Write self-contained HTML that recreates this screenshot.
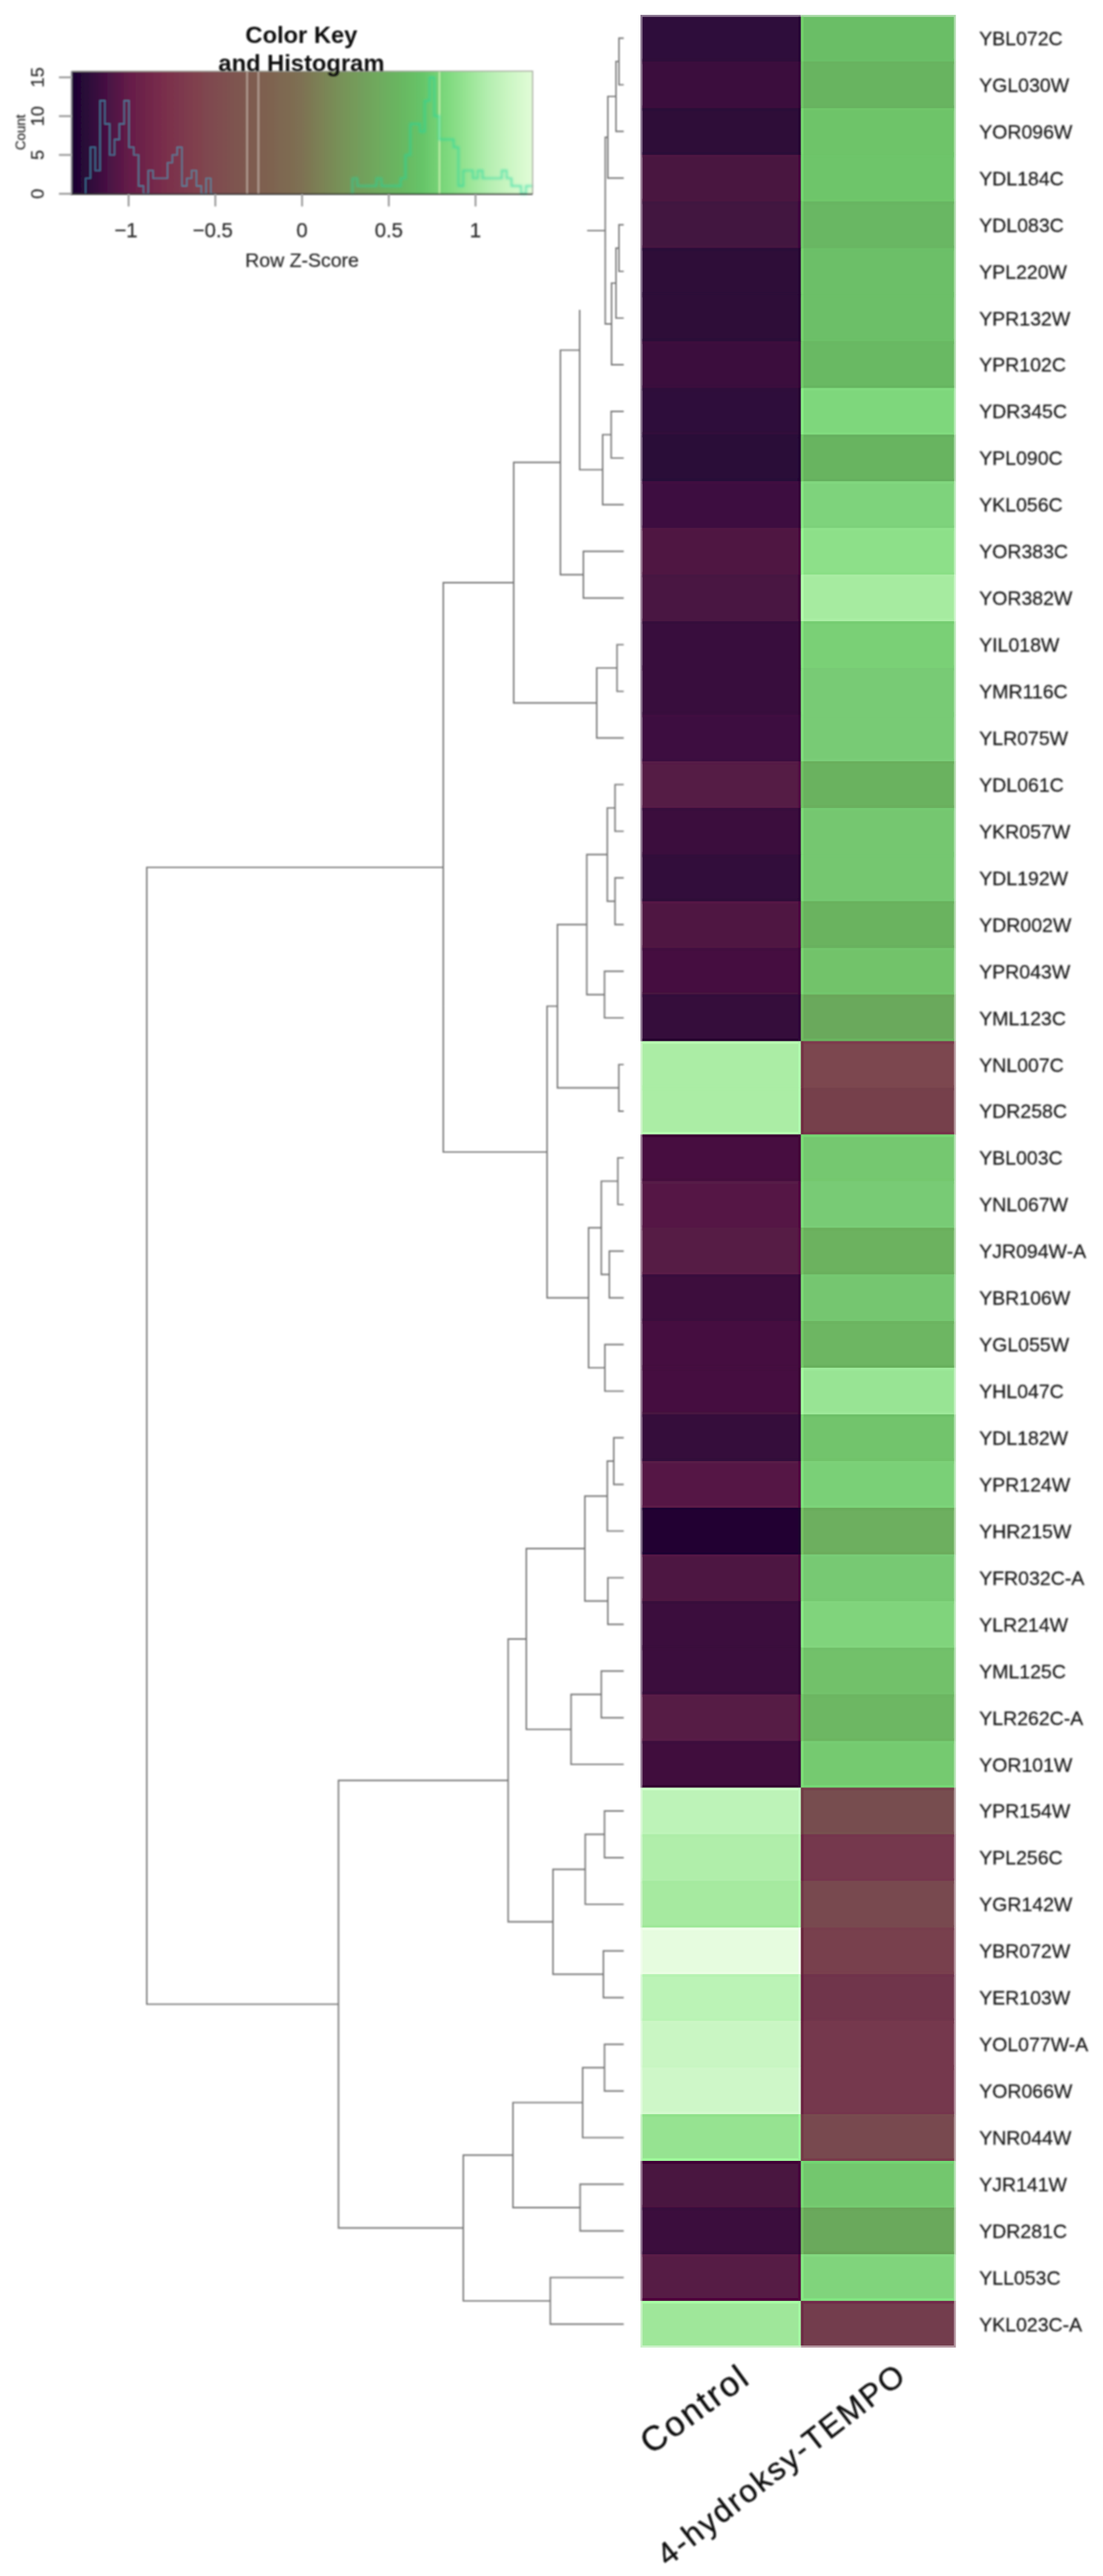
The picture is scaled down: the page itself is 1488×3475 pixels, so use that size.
<!DOCTYPE html>
<html><head><meta charset="utf-8"><title>Heatmap</title>
<style>html,body{margin:0;padding:0;background:#fff;}svg{display:block;font-family:"Liberation Sans",sans-serif;}</style></head><body>
<svg width="1488" height="3475" viewBox="0 0 1488 3475">
<defs>
<filter id="b0" x="-5%" y="-5%" width="110%" height="110%"><feGaussianBlur stdDeviation="0.6"/></filter>
<filter id="b1" x="-5%" y="-5%" width="110%" height="110%"><feGaussianBlur stdDeviation="0.9"/></filter>
<filter id="b2" x="-5%" y="-5%" width="110%" height="110%"><feGaussianBlur stdDeviation="1.6"/></filter>
<linearGradient id="kg" x1="0" x2="1" y1="0" y2="0">
<stop offset="0.0000" stop-color="#1A0530"/>
<stop offset="0.0394" stop-color="#2E083A"/>
<stop offset="0.0807" stop-color="#4A1244"/>
<stop offset="0.1277" stop-color="#661D48"/>
<stop offset="0.1971" stop-color="#792D4C"/>
<stop offset="0.2685" stop-color="#80404E"/>
<stop offset="0.3136" stop-color="#7F4C50"/>
<stop offset="0.4074" stop-color="#7E5E50"/>
<stop offset="0.4976" stop-color="#7E7052"/>
<stop offset="0.5314" stop-color="#7C7E54"/>
<stop offset="0.5787" stop-color="#789058"/>
<stop offset="0.6252" stop-color="#739E5B"/>
<stop offset="0.6718" stop-color="#6EAC5E"/>
<stop offset="0.7184" stop-color="#68B862"/>
<stop offset="0.7604" stop-color="#66C468"/>
<stop offset="0.8115" stop-color="#7CD87C"/>
<stop offset="0.8581" stop-color="#98E494"/>
<stop offset="0.9042" stop-color="#B4EEB0"/>
<stop offset="0.9508" stop-color="#CCF6C4"/>
<stop offset="1.0000" stop-color="#E2FCD8"/>
</linearGradient>
</defs>
<rect width="1488" height="3475" fill="#fff"/>
<g stroke="#727272" stroke-width="1.9" fill="none" stroke-linecap="square" filter="url(#b1)">
<path d="M835.0 51.5L840.5 51.5M835.0 51.5L835.0 114.4M835.0 114.4L840.5 114.4M831.0 82.9L835.0 82.9M831.0 82.9L831.0 177.3M831.0 177.3L840.5 177.3M820.0 130.1L831.0 130.1M820.0 130.1L820.0 240.3M820.0 240.3L840.5 240.3M835.0 303.2L840.5 303.2M835.0 303.2L835.0 366.1M835.0 366.1L840.5 366.1M831.0 334.7L835.0 334.7M831.0 334.7L831.0 429.1M831.0 429.1L840.5 429.1M825.0 381.9L831.0 381.9M825.0 381.9L825.0 492.0M825.0 492.0L840.5 492.0M816.5 185.2L820.0 185.2M816.5 185.2L816.5 437.0M816.5 437.0L825.0 437.0M824.5 555.0L840.5 555.0M824.5 555.0L824.5 617.9M824.5 617.9L840.5 617.9M813.0 586.4L824.5 586.4M813.0 586.4L813.0 680.8M813.0 680.8L840.5 680.8M793.0 311.1L816.5 311.1M782.0 419.0L782.0 633.6M782.0 633.6L813.0 633.6M787.0 743.8L840.5 743.8M787.0 743.8L787.0 806.7M787.0 806.7L840.5 806.7M756.0 472.4L782.0 472.4M756.0 472.4L756.0 775.2M756.0 775.2L787.0 775.2M832.4 869.6L840.5 869.6M832.4 869.6L832.4 932.6M832.4 932.6L840.5 932.6M805.0 901.1L832.4 901.1M805.0 901.1L805.0 995.5M805.0 995.5L840.5 995.5M693.0 623.8L756.0 623.8M693.0 623.8L693.0 948.3M693.0 948.3L805.0 948.3M829.7 1058.4L840.5 1058.4M829.7 1058.4L829.7 1121.4M829.7 1121.4L840.5 1121.4M829.7 1184.3L840.5 1184.3M829.7 1184.3L829.7 1247.3M829.7 1247.3L840.5 1247.3M819.3 1089.9L829.7 1089.9M819.3 1089.9L819.3 1215.8M819.3 1215.8L829.7 1215.8M815.5 1310.2L840.5 1310.2M815.5 1310.2L815.5 1373.1M815.5 1373.1L840.5 1373.1M791.6 1152.8L819.3 1152.8M791.6 1152.8L791.6 1341.7M791.6 1341.7L815.5 1341.7M834.8 1436.1L840.5 1436.1M834.8 1436.1L834.8 1499.0M834.8 1499.0L840.5 1499.0M752.0 1247.3L791.6 1247.3M752.0 1247.3L752.0 1467.5M752.0 1467.5L834.8 1467.5M833.5 1561.9L840.5 1561.9M833.5 1561.9L833.5 1624.9M833.5 1624.9L840.5 1624.9M822.0 1687.8L840.5 1687.8M822.0 1687.8L822.0 1750.7M822.0 1750.7L840.5 1750.7M811.2 1593.4L833.5 1593.4M811.2 1593.4L811.2 1719.3M811.2 1719.3L822.0 1719.3M816.0 1813.7L840.5 1813.7M816.0 1813.7L816.0 1876.6M816.0 1876.6L840.5 1876.6M794.0 1656.3L811.2 1656.3M794.0 1656.3L794.0 1845.1M794.0 1845.1L816.0 1845.1M738.0 1357.4L752.0 1357.4M738.0 1357.4L738.0 1750.7M738.0 1750.7L794.0 1750.7M598.0 786.0L693.0 786.0M598.0 786.0L598.0 1554.1M598.0 1554.1L738.0 1554.1M828.0 1939.5L840.5 1939.5M828.0 1939.5L828.0 2002.5M828.0 2002.5L840.5 2002.5M819.3 1971.0L828.0 1971.0M819.3 1971.0L819.3 2065.4M819.3 2065.4L840.5 2065.4M820.0 2128.4L840.5 2128.4M820.0 2128.4L820.0 2191.3M820.0 2191.3L840.5 2191.3M789.0 2018.2L819.3 2018.2M789.0 2018.2L789.0 2159.8M789.0 2159.8L820.0 2159.8M811.2 2254.2L840.5 2254.2M811.2 2254.2L811.2 2317.2M811.2 2317.2L840.5 2317.2M770.4 2285.7L811.2 2285.7M770.4 2285.7L770.4 2380.1M770.4 2380.1L840.5 2380.1M710.0 2089.0L789.0 2089.0M710.0 2089.0L710.0 2332.9M710.0 2332.9L770.4 2332.9M815.5 2443.0L840.5 2443.0M815.5 2443.0L815.5 2506.0M815.5 2506.0L840.5 2506.0M789.5 2474.5L815.5 2474.5M789.5 2474.5L789.5 2568.9M789.5 2568.9L840.5 2568.9M814.0 2631.8L840.5 2631.8M814.0 2631.8L814.0 2694.8M814.0 2694.8L840.5 2694.8M746.0 2521.7L789.5 2521.7M746.0 2521.7L746.0 2663.3M746.0 2663.3L814.0 2663.3M685.5 2211.0L710.0 2211.0M685.5 2211.0L685.5 2592.5M685.5 2592.5L746.0 2592.5M815.5 2757.7L840.5 2757.7M815.5 2757.7L815.5 2820.7M815.5 2820.7L840.5 2820.7M786.0 2789.2L815.5 2789.2M786.0 2789.2L786.0 2883.6M786.0 2883.6L840.5 2883.6M782.6 2946.5L840.5 2946.5M782.6 2946.5L782.6 3009.5M782.6 3009.5L840.5 3009.5M692.0 2836.4L786.0 2836.4M692.0 2836.4L692.0 2978.0M692.0 2978.0L782.6 2978.0M742.4 3072.4L840.5 3072.4M742.4 3072.4L742.4 3135.3M742.4 3135.3L840.5 3135.3M625.0 2907.2L692.0 2907.2M625.0 2907.2L625.0 3103.9M625.0 3103.9L742.4 3103.9M456.6 2401.7L685.5 2401.7M456.6 2401.7L456.6 3005.5M456.6 3005.5L625.0 3005.5M198.0 1170.1L598.0 1170.1M198.0 1170.1L198.0 2703.6M198.0 2703.6L456.6 2703.6"/>
</g>
<clipPath id="hmin"><rect x="866.7" y="22.7" width="420.1" height="3141.4"/></clipPath>
<g filter="url(#b0)">
<g>
<rect x="864.0" y="20.00" width="216.5" height="63.34" fill="#2F0B3A"/>
<rect x="1080.5" y="20.00" width="209.0" height="63.34" fill="#6BBE66"/>
<rect x="864.0" y="82.94" width="216.5" height="63.34" fill="#3A0F3D"/>
<rect x="1080.5" y="82.94" width="209.0" height="63.34" fill="#68B461"/>
<rect x="864.0" y="145.87" width="216.5" height="63.34" fill="#2D0A39"/>
<rect x="1080.5" y="145.87" width="209.0" height="63.34" fill="#6EC469"/>
<rect x="864.0" y="208.81" width="216.5" height="63.34" fill="#4A1541"/>
<rect x="1080.5" y="208.81" width="209.0" height="63.34" fill="#6EC56A"/>
<rect x="864.0" y="271.74" width="216.5" height="63.34" fill="#421340"/>
<rect x="1080.5" y="271.74" width="209.0" height="63.34" fill="#69B763"/>
<rect x="864.0" y="334.68" width="216.5" height="63.34" fill="#2D0A39"/>
<rect x="1080.5" y="334.68" width="209.0" height="63.34" fill="#6CBF67"/>
<rect x="864.0" y="397.62" width="216.5" height="63.34" fill="#2D0A39"/>
<rect x="1080.5" y="397.62" width="209.0" height="63.34" fill="#6CBF67"/>
<rect x="864.0" y="460.55" width="216.5" height="63.34" fill="#3A0F3D"/>
<rect x="1080.5" y="460.55" width="209.0" height="63.34" fill="#69B963"/>
<rect x="864.0" y="523.49" width="216.5" height="63.34" fill="#2F0B3A"/>
<rect x="1080.5" y="523.49" width="209.0" height="63.34" fill="#7ED77C"/>
<rect x="864.0" y="586.42" width="216.5" height="63.34" fill="#2A0838"/>
<rect x="1080.5" y="586.42" width="209.0" height="63.34" fill="#68B461"/>
<rect x="864.0" y="649.36" width="216.5" height="63.34" fill="#3E1040"/>
<rect x="1080.5" y="649.36" width="209.0" height="63.34" fill="#7ED37C"/>
<rect x="864.0" y="712.30" width="216.5" height="63.34" fill="#4F1743"/>
<rect x="1080.5" y="712.30" width="209.0" height="63.34" fill="#8DE089"/>
<rect x="864.0" y="775.23" width="216.5" height="63.34" fill="#481442"/>
<rect x="1080.5" y="775.23" width="209.0" height="63.34" fill="#A6EBA0"/>
<rect x="864.0" y="838.17" width="216.5" height="63.34" fill="#380D3C"/>
<rect x="1080.5" y="838.17" width="209.0" height="63.34" fill="#7AD076"/>
<rect x="864.0" y="901.10" width="216.5" height="63.34" fill="#380D3C"/>
<rect x="1080.5" y="901.10" width="209.0" height="63.34" fill="#78CB75"/>
<rect x="864.0" y="964.04" width="216.5" height="63.34" fill="#3E1040"/>
<rect x="1080.5" y="964.04" width="209.0" height="63.34" fill="#78CB75"/>
<rect x="864.0" y="1026.98" width="216.5" height="63.34" fill="#541A45"/>
<rect x="1080.5" y="1026.98" width="209.0" height="63.34" fill="#6BB25F"/>
<rect x="864.0" y="1089.91" width="216.5" height="63.34" fill="#3A0E3D"/>
<rect x="1080.5" y="1089.91" width="209.0" height="63.34" fill="#74C770"/>
<rect x="864.0" y="1152.85" width="216.5" height="63.34" fill="#320A3A"/>
<rect x="1080.5" y="1152.85" width="209.0" height="63.34" fill="#74C770"/>
<rect x="864.0" y="1215.78" width="216.5" height="63.34" fill="#501743"/>
<rect x="1080.5" y="1215.78" width="209.0" height="63.34" fill="#6AB35F"/>
<rect x="864.0" y="1278.72" width="216.5" height="63.34" fill="#44113F"/>
<rect x="1080.5" y="1278.72" width="209.0" height="63.34" fill="#72C36B"/>
<rect x="864.0" y="1341.66" width="216.5" height="63.34" fill="#350B3B"/>
<rect x="1080.5" y="1341.66" width="209.0" height="63.34" fill="#6BA95C"/>
<rect x="864.0" y="1404.59" width="216.5" height="63.34" fill="#ABEDA5"/>
<rect x="1080.5" y="1404.59" width="209.0" height="63.34" fill="#7B464F"/>
<rect x="864.0" y="1467.53" width="216.5" height="63.34" fill="#ABEDA5"/>
<rect x="1080.5" y="1467.53" width="209.0" height="63.34" fill="#76414C"/>
<rect x="864.0" y="1530.46" width="216.5" height="63.34" fill="#47113F"/>
<rect x="1080.5" y="1530.46" width="209.0" height="63.34" fill="#74C86F"/>
<rect x="864.0" y="1593.40" width="216.5" height="63.34" fill="#551945"/>
<rect x="1080.5" y="1593.40" width="209.0" height="63.34" fill="#78CB74"/>
<rect x="864.0" y="1656.34" width="216.5" height="63.34" fill="#571B45"/>
<rect x="1080.5" y="1656.34" width="209.0" height="63.34" fill="#6CB25F"/>
<rect x="864.0" y="1719.27" width="216.5" height="63.34" fill="#3C0E3D"/>
<rect x="1080.5" y="1719.27" width="209.0" height="63.34" fill="#74C66F"/>
<rect x="864.0" y="1782.21" width="216.5" height="63.34" fill="#44113F"/>
<rect x="1080.5" y="1782.21" width="209.0" height="63.34" fill="#6DB662"/>
<rect x="864.0" y="1845.14" width="216.5" height="63.34" fill="#44113F"/>
<rect x="1080.5" y="1845.14" width="209.0" height="63.34" fill="#98E494"/>
<rect x="864.0" y="1908.08" width="216.5" height="63.34" fill="#360B3B"/>
<rect x="1080.5" y="1908.08" width="209.0" height="63.34" fill="#72C46C"/>
<rect x="864.0" y="1971.02" width="216.5" height="63.34" fill="#551945"/>
<rect x="1080.5" y="1971.02" width="209.0" height="63.34" fill="#7AD077"/>
<rect x="864.0" y="2033.95" width="216.5" height="63.34" fill="#240533"/>
<rect x="1080.5" y="2033.95" width="209.0" height="63.34" fill="#6DAF5E"/>
<rect x="864.0" y="2096.89" width="216.5" height="63.34" fill="#4E1642"/>
<rect x="1080.5" y="2096.89" width="209.0" height="63.34" fill="#77C973"/>
<rect x="864.0" y="2159.82" width="216.5" height="63.34" fill="#3A0D3C"/>
<rect x="1080.5" y="2159.82" width="209.0" height="63.34" fill="#80D47C"/>
<rect x="864.0" y="2222.76" width="216.5" height="63.34" fill="#3A0D3C"/>
<rect x="1080.5" y="2222.76" width="209.0" height="63.34" fill="#72C16B"/>
<rect x="864.0" y="2285.70" width="216.5" height="63.34" fill="#561A45"/>
<rect x="1080.5" y="2285.70" width="209.0" height="63.34" fill="#6DB763"/>
<rect x="864.0" y="2348.63" width="216.5" height="63.34" fill="#3F0F3E"/>
<rect x="1080.5" y="2348.63" width="209.0" height="63.34" fill="#75CA70"/>
<rect x="864.0" y="2411.57" width="216.5" height="63.34" fill="#BDF3B8"/>
<rect x="1080.5" y="2411.57" width="209.0" height="63.34" fill="#774E50"/>
<rect x="864.0" y="2474.50" width="216.5" height="63.34" fill="#B0EEAA"/>
<rect x="1080.5" y="2474.50" width="209.0" height="63.34" fill="#74384D"/>
<rect x="864.0" y="2537.44" width="216.5" height="63.34" fill="#A6EAA0"/>
<rect x="1080.5" y="2537.44" width="209.0" height="63.34" fill="#784850"/>
<rect x="864.0" y="2600.38" width="216.5" height="63.34" fill="#E6FCDF"/>
<rect x="1080.5" y="2600.38" width="209.0" height="63.34" fill="#783F4E"/>
<rect x="864.0" y="2663.31" width="216.5" height="63.34" fill="#BBF3B6"/>
<rect x="1080.5" y="2663.31" width="209.0" height="63.34" fill="#70344C"/>
<rect x="864.0" y="2726.25" width="216.5" height="63.34" fill="#C9F6C3"/>
<rect x="1080.5" y="2726.25" width="209.0" height="63.34" fill="#75384E"/>
<rect x="864.0" y="2789.18" width="216.5" height="63.34" fill="#CEF7C8"/>
<rect x="1080.5" y="2789.18" width="209.0" height="63.34" fill="#75384E"/>
<rect x="864.0" y="2852.12" width="216.5" height="63.34" fill="#96E391"/>
<rect x="1080.5" y="2852.12" width="209.0" height="63.34" fill="#784A4F"/>
<rect x="864.0" y="2915.06" width="216.5" height="63.34" fill="#491240"/>
<rect x="1080.5" y="2915.06" width="209.0" height="63.34" fill="#73C76E"/>
<rect x="864.0" y="2977.99" width="216.5" height="63.34" fill="#3A0C3C"/>
<rect x="1080.5" y="2977.99" width="209.0" height="63.34" fill="#6BA95C"/>
<rect x="864.0" y="3040.93" width="216.5" height="63.34" fill="#571A45"/>
<rect x="1080.5" y="3040.93" width="209.0" height="63.34" fill="#80D47C"/>
<rect x="864.0" y="3103.86" width="216.5" height="62.94" fill="#9FE79A"/>
<rect x="1080.5" y="3103.86" width="209.0" height="62.94" fill="#733D4E"/>
</g>
<rect x="863.0" y="19.0" width="427.5" height="3148.8" fill="#fff" opacity="0.45"/>
<g clip-path="url(#hmin)">
<g>
<rect x="864.0" y="20.00" width="216.5" height="63.34" fill="#2F0B3A"/>
<rect x="1080.5" y="20.00" width="209.0" height="63.34" fill="#6BBE66"/>
<rect x="864.0" y="82.94" width="216.5" height="63.34" fill="#3A0F3D"/>
<rect x="1080.5" y="82.94" width="209.0" height="63.34" fill="#68B461"/>
<rect x="864.0" y="145.87" width="216.5" height="63.34" fill="#2D0A39"/>
<rect x="1080.5" y="145.87" width="209.0" height="63.34" fill="#6EC469"/>
<rect x="864.0" y="208.81" width="216.5" height="63.34" fill="#4A1541"/>
<rect x="1080.5" y="208.81" width="209.0" height="63.34" fill="#6EC56A"/>
<rect x="864.0" y="271.74" width="216.5" height="63.34" fill="#421340"/>
<rect x="1080.5" y="271.74" width="209.0" height="63.34" fill="#69B763"/>
<rect x="864.0" y="334.68" width="216.5" height="63.34" fill="#2D0A39"/>
<rect x="1080.5" y="334.68" width="209.0" height="63.34" fill="#6CBF67"/>
<rect x="864.0" y="397.62" width="216.5" height="63.34" fill="#2D0A39"/>
<rect x="1080.5" y="397.62" width="209.0" height="63.34" fill="#6CBF67"/>
<rect x="864.0" y="460.55" width="216.5" height="63.34" fill="#3A0F3D"/>
<rect x="1080.5" y="460.55" width="209.0" height="63.34" fill="#69B963"/>
<rect x="864.0" y="523.49" width="216.5" height="63.34" fill="#2F0B3A"/>
<rect x="1080.5" y="523.49" width="209.0" height="63.34" fill="#7ED77C"/>
<rect x="864.0" y="586.42" width="216.5" height="63.34" fill="#2A0838"/>
<rect x="1080.5" y="586.42" width="209.0" height="63.34" fill="#68B461"/>
<rect x="864.0" y="649.36" width="216.5" height="63.34" fill="#3E1040"/>
<rect x="1080.5" y="649.36" width="209.0" height="63.34" fill="#7ED37C"/>
<rect x="864.0" y="712.30" width="216.5" height="63.34" fill="#4F1743"/>
<rect x="1080.5" y="712.30" width="209.0" height="63.34" fill="#8DE089"/>
<rect x="864.0" y="775.23" width="216.5" height="63.34" fill="#481442"/>
<rect x="1080.5" y="775.23" width="209.0" height="63.34" fill="#A6EBA0"/>
<rect x="864.0" y="838.17" width="216.5" height="63.34" fill="#380D3C"/>
<rect x="1080.5" y="838.17" width="209.0" height="63.34" fill="#7AD076"/>
<rect x="864.0" y="901.10" width="216.5" height="63.34" fill="#380D3C"/>
<rect x="1080.5" y="901.10" width="209.0" height="63.34" fill="#78CB75"/>
<rect x="864.0" y="964.04" width="216.5" height="63.34" fill="#3E1040"/>
<rect x="1080.5" y="964.04" width="209.0" height="63.34" fill="#78CB75"/>
<rect x="864.0" y="1026.98" width="216.5" height="63.34" fill="#541A45"/>
<rect x="1080.5" y="1026.98" width="209.0" height="63.34" fill="#6BB25F"/>
<rect x="864.0" y="1089.91" width="216.5" height="63.34" fill="#3A0E3D"/>
<rect x="1080.5" y="1089.91" width="209.0" height="63.34" fill="#74C770"/>
<rect x="864.0" y="1152.85" width="216.5" height="63.34" fill="#320A3A"/>
<rect x="1080.5" y="1152.85" width="209.0" height="63.34" fill="#74C770"/>
<rect x="864.0" y="1215.78" width="216.5" height="63.34" fill="#501743"/>
<rect x="1080.5" y="1215.78" width="209.0" height="63.34" fill="#6AB35F"/>
<rect x="864.0" y="1278.72" width="216.5" height="63.34" fill="#44113F"/>
<rect x="1080.5" y="1278.72" width="209.0" height="63.34" fill="#72C36B"/>
<rect x="864.0" y="1341.66" width="216.5" height="63.34" fill="#350B3B"/>
<rect x="1080.5" y="1341.66" width="209.0" height="63.34" fill="#6BA95C"/>
<rect x="864.0" y="1404.59" width="216.5" height="63.34" fill="#ABEDA5"/>
<rect x="1080.5" y="1404.59" width="209.0" height="63.34" fill="#7B464F"/>
<rect x="864.0" y="1467.53" width="216.5" height="63.34" fill="#ABEDA5"/>
<rect x="1080.5" y="1467.53" width="209.0" height="63.34" fill="#76414C"/>
<rect x="864.0" y="1530.46" width="216.5" height="63.34" fill="#47113F"/>
<rect x="1080.5" y="1530.46" width="209.0" height="63.34" fill="#74C86F"/>
<rect x="864.0" y="1593.40" width="216.5" height="63.34" fill="#551945"/>
<rect x="1080.5" y="1593.40" width="209.0" height="63.34" fill="#78CB74"/>
<rect x="864.0" y="1656.34" width="216.5" height="63.34" fill="#571B45"/>
<rect x="1080.5" y="1656.34" width="209.0" height="63.34" fill="#6CB25F"/>
<rect x="864.0" y="1719.27" width="216.5" height="63.34" fill="#3C0E3D"/>
<rect x="1080.5" y="1719.27" width="209.0" height="63.34" fill="#74C66F"/>
<rect x="864.0" y="1782.21" width="216.5" height="63.34" fill="#44113F"/>
<rect x="1080.5" y="1782.21" width="209.0" height="63.34" fill="#6DB662"/>
<rect x="864.0" y="1845.14" width="216.5" height="63.34" fill="#44113F"/>
<rect x="1080.5" y="1845.14" width="209.0" height="63.34" fill="#98E494"/>
<rect x="864.0" y="1908.08" width="216.5" height="63.34" fill="#360B3B"/>
<rect x="1080.5" y="1908.08" width="209.0" height="63.34" fill="#72C46C"/>
<rect x="864.0" y="1971.02" width="216.5" height="63.34" fill="#551945"/>
<rect x="1080.5" y="1971.02" width="209.0" height="63.34" fill="#7AD077"/>
<rect x="864.0" y="2033.95" width="216.5" height="63.34" fill="#240533"/>
<rect x="1080.5" y="2033.95" width="209.0" height="63.34" fill="#6DAF5E"/>
<rect x="864.0" y="2096.89" width="216.5" height="63.34" fill="#4E1642"/>
<rect x="1080.5" y="2096.89" width="209.0" height="63.34" fill="#77C973"/>
<rect x="864.0" y="2159.82" width="216.5" height="63.34" fill="#3A0D3C"/>
<rect x="1080.5" y="2159.82" width="209.0" height="63.34" fill="#80D47C"/>
<rect x="864.0" y="2222.76" width="216.5" height="63.34" fill="#3A0D3C"/>
<rect x="1080.5" y="2222.76" width="209.0" height="63.34" fill="#72C16B"/>
<rect x="864.0" y="2285.70" width="216.5" height="63.34" fill="#561A45"/>
<rect x="1080.5" y="2285.70" width="209.0" height="63.34" fill="#6DB763"/>
<rect x="864.0" y="2348.63" width="216.5" height="63.34" fill="#3F0F3E"/>
<rect x="1080.5" y="2348.63" width="209.0" height="63.34" fill="#75CA70"/>
<rect x="864.0" y="2411.57" width="216.5" height="63.34" fill="#BDF3B8"/>
<rect x="1080.5" y="2411.57" width="209.0" height="63.34" fill="#774E50"/>
<rect x="864.0" y="2474.50" width="216.5" height="63.34" fill="#B0EEAA"/>
<rect x="1080.5" y="2474.50" width="209.0" height="63.34" fill="#74384D"/>
<rect x="864.0" y="2537.44" width="216.5" height="63.34" fill="#A6EAA0"/>
<rect x="1080.5" y="2537.44" width="209.0" height="63.34" fill="#784850"/>
<rect x="864.0" y="2600.38" width="216.5" height="63.34" fill="#E6FCDF"/>
<rect x="1080.5" y="2600.38" width="209.0" height="63.34" fill="#783F4E"/>
<rect x="864.0" y="2663.31" width="216.5" height="63.34" fill="#BBF3B6"/>
<rect x="1080.5" y="2663.31" width="209.0" height="63.34" fill="#70344C"/>
<rect x="864.0" y="2726.25" width="216.5" height="63.34" fill="#C9F6C3"/>
<rect x="1080.5" y="2726.25" width="209.0" height="63.34" fill="#75384E"/>
<rect x="864.0" y="2789.18" width="216.5" height="63.34" fill="#CEF7C8"/>
<rect x="1080.5" y="2789.18" width="209.0" height="63.34" fill="#75384E"/>
<rect x="864.0" y="2852.12" width="216.5" height="63.34" fill="#96E391"/>
<rect x="1080.5" y="2852.12" width="209.0" height="63.34" fill="#784A4F"/>
<rect x="864.0" y="2915.06" width="216.5" height="63.34" fill="#491240"/>
<rect x="1080.5" y="2915.06" width="209.0" height="63.34" fill="#73C76E"/>
<rect x="864.0" y="2977.99" width="216.5" height="63.34" fill="#3A0C3C"/>
<rect x="1080.5" y="2977.99" width="209.0" height="63.34" fill="#6BA95C"/>
<rect x="864.0" y="3040.93" width="216.5" height="63.34" fill="#571A45"/>
<rect x="1080.5" y="3040.93" width="209.0" height="63.34" fill="#80D47C"/>
<rect x="864.0" y="3103.86" width="216.5" height="62.94" fill="#9FE79A"/>
<rect x="1080.5" y="3103.86" width="209.0" height="62.94" fill="#733D4E"/>
</g>
<rect x="864.0" y="79.34" width="216.5" height="3.6" fill="#2e0b3a"/>
<rect x="864.0" y="82.94" width="216.5" height="3.6" fill="#3b0f3d"/>
<rect x="1080.5" y="79.34" width="209.0" height="3.6" fill="#6bbf67"/>
<rect x="1080.5" y="82.94" width="209.0" height="3.6" fill="#68b360"/>
<rect x="864.0" y="142.27" width="216.5" height="3.6" fill="#3c103d"/>
<rect x="864.0" y="145.87" width="216.5" height="3.6" fill="#2b0939"/>
<rect x="1080.5" y="142.27" width="209.0" height="3.6" fill="#67b260"/>
<rect x="1080.5" y="145.87" width="209.0" height="3.6" fill="#6fc66a"/>
<rect x="864.0" y="205.21" width="216.5" height="3.6" fill="#2a0938"/>
<rect x="864.0" y="208.81" width="216.5" height="3.6" fill="#4d1642"/>
<rect x="1080.5" y="205.21" width="209.0" height="3.6" fill="#6ec469"/>
<rect x="1080.5" y="208.81" width="209.0" height="3.6" fill="#6ec56a"/>
<rect x="864.0" y="268.14" width="216.5" height="3.6" fill="#4b1541"/>
<rect x="864.0" y="271.74" width="216.5" height="3.6" fill="#411340"/>
<rect x="1080.5" y="268.14" width="209.0" height="3.6" fill="#6fc76b"/>
<rect x="1080.5" y="271.74" width="209.0" height="3.6" fill="#68b562"/>
<rect x="864.0" y="331.08" width="216.5" height="3.6" fill="#451441"/>
<rect x="864.0" y="334.68" width="216.5" height="3.6" fill="#2a0938"/>
<rect x="1080.5" y="331.08" width="209.0" height="3.6" fill="#69b663"/>
<rect x="1080.5" y="334.68" width="209.0" height="3.6" fill="#6cc067"/>
<rect x="864.0" y="394.02" width="216.5" height="3.6" fill="#2d0a39"/>
<rect x="864.0" y="397.62" width="216.5" height="3.6" fill="#2d0a39"/>
<rect x="1080.5" y="394.02" width="209.0" height="3.6" fill="#6cbf67"/>
<rect x="1080.5" y="397.62" width="209.0" height="3.6" fill="#6cbf67"/>
<rect x="864.0" y="456.95" width="216.5" height="3.6" fill="#2b0939"/>
<rect x="864.0" y="460.55" width="216.5" height="3.6" fill="#3c103d"/>
<rect x="1080.5" y="456.95" width="209.0" height="3.6" fill="#6cc067"/>
<rect x="1080.5" y="460.55" width="209.0" height="3.6" fill="#69b863"/>
<rect x="864.0" y="519.89" width="216.5" height="3.6" fill="#3b0f3d"/>
<rect x="864.0" y="523.49" width="216.5" height="3.6" fill="#2e0b3a"/>
<rect x="1080.5" y="519.89" width="209.0" height="3.6" fill="#66b560"/>
<rect x="1080.5" y="523.49" width="209.0" height="3.6" fill="#81db7f"/>
<rect x="864.0" y="582.82" width="216.5" height="3.6" fill="#300b3a"/>
<rect x="864.0" y="586.42" width="216.5" height="3.6" fill="#290838"/>
<rect x="1080.5" y="582.82" width="209.0" height="3.6" fill="#81db7f"/>
<rect x="1080.5" y="586.42" width="209.0" height="3.6" fill="#65b05e"/>
<rect x="864.0" y="645.76" width="216.5" height="3.6" fill="#280737"/>
<rect x="864.0" y="649.36" width="216.5" height="3.6" fill="#401141"/>
<rect x="1080.5" y="645.76" width="209.0" height="3.6" fill="#65b05e"/>
<rect x="1080.5" y="649.36" width="209.0" height="3.6" fill="#81d77f"/>
<rect x="864.0" y="708.70" width="216.5" height="3.6" fill="#3c0f40"/>
<rect x="864.0" y="712.30" width="216.5" height="3.6" fill="#511843"/>
<rect x="1080.5" y="708.70" width="209.0" height="3.6" fill="#7cd17a"/>
<rect x="1080.5" y="712.30" width="209.0" height="3.6" fill="#8fe28b"/>
<rect x="864.0" y="771.63" width="216.5" height="3.6" fill="#501743"/>
<rect x="864.0" y="775.23" width="216.5" height="3.6" fill="#471442"/>
<rect x="1080.5" y="771.63" width="209.0" height="3.6" fill="#8adf86"/>
<rect x="1080.5" y="775.23" width="209.0" height="3.6" fill="#a9eca3"/>
<rect x="864.0" y="834.57" width="216.5" height="3.6" fill="#4a1543"/>
<rect x="864.0" y="838.17" width="216.5" height="3.6" fill="#360c3b"/>
<rect x="1080.5" y="834.57" width="209.0" height="3.6" fill="#abeea5"/>
<rect x="1080.5" y="838.17" width="209.0" height="3.6" fill="#75cd71"/>
<rect x="864.0" y="897.50" width="216.5" height="3.6" fill="#380d3c"/>
<rect x="864.0" y="901.10" width="216.5" height="3.6" fill="#380d3c"/>
<rect x="1080.5" y="897.50" width="209.0" height="3.6" fill="#7ad176"/>
<rect x="1080.5" y="901.10" width="209.0" height="3.6" fill="#78ca75"/>
<rect x="864.0" y="960.44" width="216.5" height="3.6" fill="#370d3c"/>
<rect x="864.0" y="964.04" width="216.5" height="3.6" fill="#3f1040"/>
<rect x="1080.5" y="960.44" width="209.0" height="3.6" fill="#78cb75"/>
<rect x="1080.5" y="964.04" width="209.0" height="3.6" fill="#78cb75"/>
<rect x="864.0" y="1023.38" width="216.5" height="3.6" fill="#3b0f3f"/>
<rect x="864.0" y="1026.98" width="216.5" height="3.6" fill="#571b46"/>
<rect x="1080.5" y="1023.38" width="209.0" height="3.6" fill="#7ace78"/>
<rect x="1080.5" y="1026.98" width="209.0" height="3.6" fill="#69af5c"/>
<rect x="864.0" y="1086.31" width="216.5" height="3.6" fill="#571b46"/>
<rect x="864.0" y="1089.91" width="216.5" height="3.6" fill="#370d3c"/>
<rect x="1080.5" y="1086.31" width="209.0" height="3.6" fill="#6aaf5d"/>
<rect x="1080.5" y="1089.91" width="209.0" height="3.6" fill="#75ca72"/>
<rect x="864.0" y="1149.25" width="216.5" height="3.6" fill="#3b0e3d"/>
<rect x="864.0" y="1152.85" width="216.5" height="3.6" fill="#310a3a"/>
<rect x="1080.5" y="1149.25" width="209.0" height="3.6" fill="#74c770"/>
<rect x="1080.5" y="1152.85" width="209.0" height="3.6" fill="#74c770"/>
<rect x="864.0" y="1212.18" width="216.5" height="3.6" fill="#2e0839"/>
<rect x="864.0" y="1215.78" width="216.5" height="3.6" fill="#541944"/>
<rect x="1080.5" y="1212.18" width="209.0" height="3.6" fill="#75c972"/>
<rect x="1080.5" y="1215.78" width="209.0" height="3.6" fill="#69b15d"/>
<rect x="864.0" y="1275.12" width="216.5" height="3.6" fill="#511843"/>
<rect x="864.0" y="1278.72" width="216.5" height="3.6" fill="#43103f"/>
<rect x="1080.5" y="1275.12" width="209.0" height="3.6" fill="#69b15e"/>
<rect x="1080.5" y="1278.72" width="209.0" height="3.6" fill="#73c56c"/>
<rect x="864.0" y="1338.06" width="216.5" height="3.6" fill="#46123f"/>
<rect x="864.0" y="1341.66" width="216.5" height="3.6" fill="#330a3b"/>
<rect x="1080.5" y="1338.06" width="209.0" height="3.6" fill="#73c66d"/>
<rect x="1080.5" y="1341.66" width="209.0" height="3.6" fill="#6aa65a"/>
<rect x="864.0" y="1400.99" width="216.5" height="3.6" fill="#27002e"/>
<rect x="864.0" y="1404.59" width="216.5" height="3.6" fill="#b9ffb2"/>
<rect x="1080.5" y="1400.99" width="209.0" height="3.6" fill="#69b55e"/>
<rect x="1080.5" y="1404.59" width="209.0" height="3.6" fill="#7d3a4d"/>
<rect x="864.0" y="1463.93" width="216.5" height="3.6" fill="#abeda5"/>
<rect x="864.0" y="1467.53" width="216.5" height="3.6" fill="#abeda5"/>
<rect x="1080.5" y="1463.93" width="209.0" height="3.6" fill="#7c474f"/>
<rect x="1080.5" y="1467.53" width="209.0" height="3.6" fill="#75404c"/>
<rect x="864.0" y="1526.86" width="216.5" height="3.6" fill="#b7ffb1"/>
<rect x="864.0" y="1530.46" width="216.5" height="3.6" fill="#3b0033"/>
<rect x="1080.5" y="1526.86" width="209.0" height="3.6" fill="#763148"/>
<rect x="1080.5" y="1530.46" width="209.0" height="3.6" fill="#74d873"/>
<rect x="864.0" y="1589.80" width="216.5" height="3.6" fill="#45103e"/>
<rect x="864.0" y="1593.40" width="216.5" height="3.6" fill="#571a46"/>
<rect x="1080.5" y="1589.80" width="209.0" height="3.6" fill="#74c86e"/>
<rect x="1080.5" y="1593.40" width="209.0" height="3.6" fill="#78cb75"/>
<rect x="864.0" y="1652.74" width="216.5" height="3.6" fill="#551945"/>
<rect x="864.0" y="1656.34" width="216.5" height="3.6" fill="#571b45"/>
<rect x="1080.5" y="1652.74" width="209.0" height="3.6" fill="#79ce77"/>
<rect x="1080.5" y="1656.34" width="209.0" height="3.6" fill="#6baf5c"/>
<rect x="864.0" y="1715.67" width="216.5" height="3.6" fill="#5a1d46"/>
<rect x="864.0" y="1719.27" width="216.5" height="3.6" fill="#390c3c"/>
<rect x="1080.5" y="1715.67" width="209.0" height="3.6" fill="#6bb05d"/>
<rect x="1080.5" y="1719.27" width="209.0" height="3.6" fill="#75c871"/>
<rect x="864.0" y="1778.61" width="216.5" height="3.6" fill="#3b0e3d"/>
<rect x="864.0" y="1782.21" width="216.5" height="3.6" fill="#45113f"/>
<rect x="1080.5" y="1778.61" width="209.0" height="3.6" fill="#75c871"/>
<rect x="1080.5" y="1782.21" width="209.0" height="3.6" fill="#6cb460"/>
<rect x="864.0" y="1841.54" width="216.5" height="3.6" fill="#44113f"/>
<rect x="864.0" y="1845.14" width="216.5" height="3.6" fill="#44113f"/>
<rect x="1080.5" y="1841.54" width="209.0" height="3.6" fill="#68b05c"/>
<rect x="1080.5" y="1845.14" width="209.0" height="3.6" fill="#9dea9a"/>
<rect x="864.0" y="1904.48" width="216.5" height="3.6" fill="#46123f"/>
<rect x="864.0" y="1908.08" width="216.5" height="3.6" fill="#340a3b"/>
<rect x="1080.5" y="1904.48" width="209.0" height="3.6" fill="#9de899"/>
<rect x="1080.5" y="1908.08" width="209.0" height="3.6" fill="#6dc067"/>
<rect x="864.0" y="1967.42" width="216.5" height="3.6" fill="#32093a"/>
<rect x="864.0" y="1971.02" width="216.5" height="3.6" fill="#591b46"/>
<rect x="1080.5" y="1967.42" width="209.0" height="3.6" fill="#71c36b"/>
<rect x="1080.5" y="1971.02" width="209.0" height="3.6" fill="#7bd178"/>
<rect x="864.0" y="2030.35" width="216.5" height="3.6" fill="#5b1b47"/>
<rect x="864.0" y="2033.95" width="216.5" height="3.6" fill="#1e0331"/>
<rect x="1080.5" y="2030.35" width="209.0" height="3.6" fill="#7cd47a"/>
<rect x="1080.5" y="2033.95" width="209.0" height="3.6" fill="#6bab5b"/>
<rect x="864.0" y="2093.29" width="216.5" height="3.6" fill="#1f0331"/>
<rect x="864.0" y="2096.89" width="216.5" height="3.6" fill="#531844"/>
<rect x="1080.5" y="2093.29" width="209.0" height="3.6" fill="#6cac5b"/>
<rect x="1080.5" y="2096.89" width="209.0" height="3.6" fill="#78cc76"/>
<rect x="864.0" y="2156.22" width="216.5" height="3.6" fill="#501743"/>
<rect x="864.0" y="2159.82" width="216.5" height="3.6" fill="#380c3b"/>
<rect x="1080.5" y="2156.22" width="209.0" height="3.6" fill="#76c872"/>
<rect x="1080.5" y="2159.82" width="209.0" height="3.6" fill="#81d57d"/>
<rect x="864.0" y="2219.16" width="216.5" height="3.6" fill="#3a0d3c"/>
<rect x="864.0" y="2222.76" width="216.5" height="3.6" fill="#3a0d3c"/>
<rect x="1080.5" y="2219.16" width="209.0" height="3.6" fill="#82d67e"/>
<rect x="1080.5" y="2222.76" width="209.0" height="3.6" fill="#70bf69"/>
<rect x="864.0" y="2282.10" width="216.5" height="3.6" fill="#370b3b"/>
<rect x="864.0" y="2285.70" width="216.5" height="3.6" fill="#591c46"/>
<rect x="1080.5" y="2282.10" width="209.0" height="3.6" fill="#73c26c"/>
<rect x="1080.5" y="2285.70" width="209.0" height="3.6" fill="#6cb662"/>
<rect x="864.0" y="2345.03" width="216.5" height="3.6" fill="#591b46"/>
<rect x="864.0" y="2348.63" width="216.5" height="3.6" fill="#3c0e3d"/>
<rect x="1080.5" y="2345.03" width="209.0" height="3.6" fill="#6cb561"/>
<rect x="1080.5" y="2348.63" width="209.0" height="3.6" fill="#76cc72"/>
<rect x="864.0" y="2407.97" width="216.5" height="3.6" fill="#30002f"/>
<rect x="864.0" y="2411.57" width="216.5" height="3.6" fill="#ccffc7"/>
<rect x="1080.5" y="2407.97" width="209.0" height="3.6" fill="#75d974"/>
<rect x="1080.5" y="2411.57" width="209.0" height="3.6" fill="#773f4c"/>
<rect x="864.0" y="2470.90" width="216.5" height="3.6" fill="#bff4ba"/>
<rect x="864.0" y="2474.50" width="216.5" height="3.6" fill="#aeeda8"/>
<rect x="1080.5" y="2470.90" width="209.0" height="3.6" fill="#775150"/>
<rect x="1080.5" y="2474.50" width="209.0" height="3.6" fill="#74354d"/>
<rect x="864.0" y="2533.84" width="216.5" height="3.6" fill="#b1eeab"/>
<rect x="864.0" y="2537.44" width="216.5" height="3.6" fill="#a5ea9f"/>
<rect x="1080.5" y="2533.84" width="209.0" height="3.6" fill="#74364d"/>
<rect x="1080.5" y="2537.44" width="209.0" height="3.6" fill="#784a50"/>
<rect x="864.0" y="2596.78" width="216.5" height="3.6" fill="#9ee898"/>
<rect x="864.0" y="2600.38" width="216.5" height="3.6" fill="#eefee7"/>
<rect x="1080.5" y="2596.78" width="209.0" height="3.6" fill="#784950"/>
<rect x="1080.5" y="2600.38" width="209.0" height="3.6" fill="#783e4e"/>
<rect x="864.0" y="2659.71" width="216.5" height="3.6" fill="#ebfde4"/>
<rect x="864.0" y="2663.31" width="216.5" height="3.6" fill="#b6f2b1"/>
<rect x="1080.5" y="2659.71" width="209.0" height="3.6" fill="#79404e"/>
<rect x="1080.5" y="2663.31" width="209.0" height="3.6" fill="#6f334c"/>
<rect x="864.0" y="2722.65" width="216.5" height="3.6" fill="#b9f3b4"/>
<rect x="864.0" y="2726.25" width="216.5" height="3.6" fill="#cbf6c5"/>
<rect x="1080.5" y="2722.65" width="209.0" height="3.6" fill="#6f344c"/>
<rect x="1080.5" y="2726.25" width="209.0" height="3.6" fill="#76384e"/>
<rect x="864.0" y="2785.58" width="216.5" height="3.6" fill="#c8f6c2"/>
<rect x="864.0" y="2789.18" width="216.5" height="3.6" fill="#cff7c9"/>
<rect x="1080.5" y="2785.58" width="209.0" height="3.6" fill="#75384e"/>
<rect x="1080.5" y="2789.18" width="209.0" height="3.6" fill="#75384e"/>
<rect x="864.0" y="2848.52" width="216.5" height="3.6" fill="#d5f9cf"/>
<rect x="864.0" y="2852.12" width="216.5" height="3.6" fill="#8fe18a"/>
<rect x="1080.5" y="2848.52" width="209.0" height="3.6" fill="#75364e"/>
<rect x="1080.5" y="2852.12" width="209.0" height="3.6" fill="#784c4f"/>
<rect x="864.0" y="2911.46" width="216.5" height="3.6" fill="#9ffc9b"/>
<rect x="864.0" y="2915.06" width="216.5" height="3.6" fill="#400036"/>
<rect x="1080.5" y="2911.46" width="209.0" height="3.6" fill="#793b4b"/>
<rect x="1080.5" y="2915.06" width="209.0" height="3.6" fill="#72d672"/>
<rect x="864.0" y="2974.39" width="216.5" height="3.6" fill="#4b1340"/>
<rect x="864.0" y="2977.99" width="216.5" height="3.6" fill="#380b3c"/>
<rect x="1080.5" y="2974.39" width="209.0" height="3.6" fill="#74cb70"/>
<rect x="1080.5" y="2977.99" width="209.0" height="3.6" fill="#6aa55a"/>
<rect x="864.0" y="3037.33" width="216.5" height="3.6" fill="#370a3b"/>
<rect x="864.0" y="3040.93" width="216.5" height="3.6" fill="#5a1c46"/>
<rect x="1080.5" y="3037.33" width="209.0" height="3.6" fill="#68a458"/>
<rect x="1080.5" y="3040.93" width="209.0" height="3.6" fill="#83d980"/>
<rect x="864.0" y="3100.26" width="216.5" height="3.6" fill="#4e013b"/>
<rect x="864.0" y="3103.86" width="216.5" height="3.6" fill="#a8ffa4"/>
<rect x="1080.5" y="3100.26" width="209.0" height="3.6" fill="#82e682"/>
<rect x="1080.5" y="3103.86" width="209.0" height="3.6" fill="#712b48"/>
<rect x="1076.90" y="20.00" width="3.6" height="62.94" fill="#280035"/>
<rect x="1080.50" y="20.00" width="3.6" height="62.94" fill="#72d36b"/>
<rect x="1076.90" y="82.94" width="3.6" height="62.94" fill="#340039"/>
<rect x="1080.50" y="82.94" width="3.6" height="62.94" fill="#6ec865"/>
<rect x="1076.90" y="145.87" width="3.6" height="62.94" fill="#250033"/>
<rect x="1080.50" y="145.87" width="3.6" height="62.94" fill="#76da6f"/>
<rect x="1076.90" y="208.81" width="3.6" height="62.94" fill="#46003c"/>
<rect x="1080.50" y="208.81" width="3.6" height="62.94" fill="#72da6f"/>
<rect x="1076.90" y="271.74" width="3.6" height="62.94" fill="#3d003c"/>
<rect x="1080.50" y="271.74" width="3.6" height="62.94" fill="#6ecb67"/>
<rect x="1076.90" y="334.68" width="3.6" height="62.94" fill="#250033"/>
<rect x="1080.50" y="334.68" width="3.6" height="62.94" fill="#74d56d"/>
<rect x="1076.90" y="397.62" width="3.6" height="62.94" fill="#250033"/>
<rect x="1080.50" y="397.62" width="3.6" height="62.94" fill="#74d56d"/>
<rect x="1076.90" y="460.55" width="3.6" height="62.94" fill="#340038"/>
<rect x="1080.50" y="460.55" width="3.6" height="62.94" fill="#6fcd68"/>
<rect x="1076.90" y="523.49" width="3.6" height="62.94" fill="#260032"/>
<rect x="1080.50" y="523.49" width="3.6" height="62.94" fill="#87ef84"/>
<rect x="1076.90" y="586.42" width="3.6" height="62.94" fill="#230033"/>
<rect x="1080.50" y="586.42" width="3.6" height="62.94" fill="#6fc966"/>
<rect x="1076.90" y="649.36" width="3.6" height="62.94" fill="#360039"/>
<rect x="1080.50" y="649.36" width="3.6" height="62.94" fill="#86ea83"/>
<rect x="1076.90" y="712.30" width="3.6" height="62.94" fill="#48003b"/>
<rect x="1080.50" y="712.30" width="3.6" height="62.94" fill="#94f891"/>
<rect x="1076.90" y="775.23" width="3.6" height="62.94" fill="#3d0037"/>
<rect x="1080.50" y="775.23" width="3.6" height="62.94" fill="#b1ffab"/>
<rect x="1076.90" y="838.17" width="3.6" height="62.94" fill="#300035"/>
<rect x="1080.50" y="838.17" width="3.6" height="62.94" fill="#82e77d"/>
<rect x="1076.90" y="901.10" width="3.6" height="62.94" fill="#300035"/>
<rect x="1080.50" y="901.10" width="3.6" height="62.94" fill="#80e27c"/>
<rect x="1076.90" y="964.04" width="3.6" height="62.94" fill="#37003a"/>
<rect x="1080.50" y="964.04" width="3.6" height="62.94" fill="#7fe17b"/>
<rect x="1076.90" y="1026.98" width="3.6" height="62.94" fill="#510842"/>
<rect x="1080.50" y="1026.98" width="3.6" height="62.94" fill="#6ec462"/>
<rect x="1076.90" y="1089.91" width="3.6" height="62.94" fill="#330037"/>
<rect x="1080.50" y="1089.91" width="3.6" height="62.94" fill="#7bdd76"/>
<rect x="1076.90" y="1152.85" width="3.6" height="62.94" fill="#2a0034"/>
<rect x="1080.50" y="1152.85" width="3.6" height="62.94" fill="#7cde76"/>
<rect x="1076.90" y="1215.78" width="3.6" height="62.94" fill="#4d0440"/>
<rect x="1080.50" y="1215.78" width="3.6" height="62.94" fill="#6dc662"/>
<rect x="1076.90" y="1278.72" width="3.6" height="62.94" fill="#3e003a"/>
<rect x="1080.50" y="1278.72" width="3.6" height="62.94" fill="#78d870"/>
<rect x="1076.90" y="1341.66" width="3.6" height="62.94" fill="#2f0037"/>
<rect x="1080.50" y="1341.66" width="3.6" height="62.94" fill="#71bc60"/>
<rect x="1076.90" y="1404.59" width="3.6" height="62.94" fill="#b1ffaf"/>
<rect x="1080.50" y="1404.59" width="3.6" height="62.94" fill="#753245"/>
<rect x="1076.90" y="1467.53" width="3.6" height="62.94" fill="#b1ffb0"/>
<rect x="1080.50" y="1467.53" width="3.6" height="62.94" fill="#702c41"/>
<rect x="1076.90" y="1530.46" width="3.6" height="62.94" fill="#420039"/>
<rect x="1080.50" y="1530.46" width="3.6" height="62.94" fill="#79de75"/>
<rect x="1076.90" y="1593.40" width="3.6" height="62.94" fill="#51043f"/>
<rect x="1080.50" y="1593.40" width="3.6" height="62.94" fill="#7ce07a"/>
<rect x="1076.90" y="1656.34" width="3.6" height="62.94" fill="#540942"/>
<rect x="1080.50" y="1656.34" width="3.6" height="62.94" fill="#6fc462"/>
<rect x="1076.90" y="1719.27" width="3.6" height="62.94" fill="#350037"/>
<rect x="1080.50" y="1719.27" width="3.6" height="62.94" fill="#7bdc75"/>
<rect x="1076.90" y="1782.21" width="3.6" height="62.94" fill="#3f003b"/>
<rect x="1080.50" y="1782.21" width="3.6" height="62.94" fill="#72ca66"/>
<rect x="1076.90" y="1845.14" width="3.6" height="62.94" fill="#3a0035"/>
<rect x="1080.50" y="1845.14" width="3.6" height="62.94" fill="#a2fd9e"/>
<rect x="1076.90" y="1908.08" width="3.6" height="62.94" fill="#2f0035"/>
<rect x="1080.50" y="1908.08" width="3.6" height="62.94" fill="#79da72"/>
<rect x="1076.90" y="1971.02" width="3.6" height="62.94" fill="#51033f"/>
<rect x="1080.50" y="1971.02" width="3.6" height="62.94" fill="#7ee67d"/>
<rect x="1076.90" y="2033.95" width="3.6" height="62.94" fill="#1b002e"/>
<rect x="1080.50" y="2033.95" width="3.6" height="62.94" fill="#76c363"/>
<rect x="1076.90" y="2096.89" width="3.6" height="62.94" fill="#49013c"/>
<rect x="1080.50" y="2096.89" width="3.6" height="62.94" fill="#7cde79"/>
<rect x="1076.90" y="2159.82" width="3.6" height="62.94" fill="#320034"/>
<rect x="1080.50" y="2159.82" width="3.6" height="62.94" fill="#88ec84"/>
<rect x="1076.90" y="2222.76" width="3.6" height="62.94" fill="#330036"/>
<rect x="1080.50" y="2222.76" width="3.6" height="62.94" fill="#79d771"/>
<rect x="1076.90" y="2285.70" width="3.6" height="62.94" fill="#530741"/>
<rect x="1080.50" y="2285.70" width="3.6" height="62.94" fill="#70ca67"/>
<rect x="1076.90" y="2348.63" width="3.6" height="62.94" fill="#390038"/>
<rect x="1080.50" y="2348.63" width="3.6" height="62.94" fill="#7be076"/>
<rect x="1076.90" y="2411.57" width="3.6" height="62.94" fill="#c5ffc4"/>
<rect x="1080.50" y="2411.57" width="3.6" height="62.94" fill="#6f3a44"/>
<rect x="1076.90" y="2474.50" width="3.6" height="62.94" fill="#b7ffb5"/>
<rect x="1080.50" y="2474.50" width="3.6" height="62.94" fill="#6d2242"/>
<rect x="1076.90" y="2537.44" width="3.6" height="62.94" fill="#acfdaa"/>
<rect x="1080.50" y="2537.44" width="3.6" height="62.94" fill="#723546"/>
<rect x="1076.90" y="2600.38" width="3.6" height="62.94" fill="#f3fff0"/>
<rect x="1080.50" y="2600.38" width="3.6" height="62.94" fill="#6b283d"/>
<rect x="1076.90" y="2663.31" width="3.6" height="62.94" fill="#c4ffc3"/>
<rect x="1080.50" y="2663.31" width="3.6" height="62.94" fill="#671d3f"/>
<rect x="1076.90" y="2726.25" width="3.6" height="62.94" fill="#d3ffd1"/>
<rect x="1080.50" y="2726.25" width="3.6" height="62.94" fill="#6b2140"/>
<rect x="1076.90" y="2789.18" width="3.6" height="62.94" fill="#d9ffd7"/>
<rect x="1080.50" y="2789.18" width="3.6" height="62.94" fill="#6a213f"/>
<rect x="1076.90" y="2852.12" width="3.6" height="62.94" fill="#9af599"/>
<rect x="1080.50" y="2852.12" width="3.6" height="62.94" fill="#743847"/>
<rect x="1076.90" y="2915.06" width="3.6" height="62.94" fill="#44003a"/>
<rect x="1080.50" y="2915.06" width="3.6" height="62.94" fill="#78dd74"/>
<rect x="1076.90" y="2977.99" width="3.6" height="62.94" fill="#340038"/>
<rect x="1080.50" y="2977.99" width="3.6" height="62.94" fill="#71bc60"/>
<rect x="1076.90" y="3040.93" width="3.6" height="62.94" fill="#52043e"/>
<rect x="1080.50" y="3040.93" width="3.6" height="62.94" fill="#85ea83"/>
<rect x="1076.90" y="3103.86" width="3.6" height="62.94" fill="#a4fba3"/>
<rect x="1080.50" y="3103.86" width="3.6" height="62.94" fill="#6e2945"/>
</g>
</g>
<g font-size="26.3" fill="#1c1c1c" stroke="#1c1c1c" stroke-width="0.3" filter="url(#b1)">
<text x="1321" y="60.9">YBL072C</text>
<text x="1321" y="123.8">YGL030W</text>
<text x="1321" y="186.7">YOR096W</text>
<text x="1321" y="249.7">YDL184C</text>
<text x="1321" y="312.6">YDL083C</text>
<text x="1321" y="375.5">YPL220W</text>
<text x="1321" y="438.5">YPR132W</text>
<text x="1321" y="501.4">YPR102C</text>
<text x="1321" y="564.4">YDR345C</text>
<text x="1321" y="627.3">YPL090C</text>
<text x="1321" y="690.2">YKL056C</text>
<text x="1321" y="753.2">YOR383C</text>
<text x="1321" y="816.1">YOR382W</text>
<text x="1321" y="879.0">YIL018W</text>
<text x="1321" y="942.0">YMR116C</text>
<text x="1321" y="1004.9">YLR075W</text>
<text x="1321" y="1067.8">YDL061C</text>
<text x="1321" y="1130.8">YKR057W</text>
<text x="1321" y="1193.7">YDL192W</text>
<text x="1321" y="1256.7">YDR002W</text>
<text x="1321" y="1319.6">YPR043W</text>
<text x="1321" y="1382.5">YML123C</text>
<text x="1321" y="1445.5">YNL007C</text>
<text x="1321" y="1508.4">YDR258C</text>
<text x="1321" y="1571.3">YBL003C</text>
<text x="1321" y="1634.3">YNL067W</text>
<text x="1321" y="1697.2">YJR094W-A</text>
<text x="1321" y="1760.1">YBR106W</text>
<text x="1321" y="1823.1">YGL055W</text>
<text x="1321" y="1886.0">YHL047C</text>
<text x="1321" y="1948.9">YDL182W</text>
<text x="1321" y="2011.9">YPR124W</text>
<text x="1321" y="2074.8">YHR215W</text>
<text x="1321" y="2137.8">YFR032C-A</text>
<text x="1321" y="2200.7">YLR214W</text>
<text x="1321" y="2263.6">YML125C</text>
<text x="1321" y="2326.6">YLR262C-A</text>
<text x="1321" y="2389.5">YOR101W</text>
<text x="1321" y="2452.4">YPR154W</text>
<text x="1321" y="2515.4">YPL256C</text>
<text x="1321" y="2578.3">YGR142W</text>
<text x="1321" y="2641.2">YBR072W</text>
<text x="1321" y="2704.2">YER103W</text>
<text x="1321" y="2767.1">YOL077W-A</text>
<text x="1321" y="2830.1">YOR066W</text>
<text x="1321" y="2893.0">YNR044W</text>
<text x="1321" y="2955.9">YJR141W</text>
<text x="1321" y="3018.9">YDR281C</text>
<text x="1321" y="3081.8">YLL053C</text>
<text x="1321" y="3144.7">YKL023C-A</text>
</g>
<g font-size="48" fill="#0c0c0c" stroke="#0c0c0c" stroke-width="0.45" filter="url(#b1)">
<text transform="translate(1012.5,3214.5) rotate(-36)" text-anchor="end" font-size="46.5" textLength="166" lengthAdjust="spacing">Control</text>
<text transform="translate(1223.5,3210.5) rotate(-38)" text-anchor="end" font-size="42.5" textLength="410" lengthAdjust="spacing">4-hydroksy-TEMPO</text>
</g>
<g filter="url(#b1)">
<rect x="96.5" y="96.0" width="622.0" height="165.8" fill="url(#kg)"/>
<line x1="333.4" x2="333.4" y1="96.0" y2="261.8" stroke="#b39e93" stroke-width="2.4"/>
<line x1="348.6" x2="348.6" y1="96.0" y2="261.8" stroke="#b39e93" stroke-width="2.4"/>
<line x1="592.8" x2="592.8" y1="96.0" y2="261.8" stroke="#b9eaa6" stroke-width="2.4"/>
<path d="M115.5 261.4V240.5H122.0V198.6H128.5V230.0H135.0V135.8H141.5V167.2H148.0V209.0H154.5V188.1H161.0V167.2H167.5V135.8H174.0V198.6H180.5V209.0H187.0V250.9H193.5V261.4H200.0V230.0H206.5V240.5H213.0V240.5H219.5V240.5H226.0V219.5H232.5V209.0H239.0V198.6H245.5V250.9H252.0V240.5H258.5V230.0H265.0V250.9H271.5V261.4H278.0V240.5H284.5V261.4H291.0" fill="none" stroke="#3fa6c4" stroke-opacity="0.7" stroke-width="1.7"/>
<path d="M475.5 261.4V240.5H482.0V250.9H488.5V250.9H495.0V250.9H501.5V250.9H508.0V240.5H514.5V250.9H521.0V250.9H527.5V250.9H534.0V250.9H540.5V240.5H547.0V209.0H553.5V167.2H560.0V167.2H566.5V177.6H573.0V135.8H579.5V104.3H586.0V156.7H592.5V188.1H599.0V188.1H605.5V188.1H612.0V198.6H618.5V250.9H625.0V230.0H631.5V230.0H638.0V240.5H644.5V230.0H651.0V240.5H657.5V240.5H664.0V240.5H670.5V240.5H677.0V230.0H683.5V240.5H690.0V250.9H696.5V250.9H703.0V261.4H709.5V250.9H716.0V250.9H718.5" fill="none" stroke="#1fd9a0" stroke-opacity="0.7" stroke-width="2.2" filter="url(#b2)"/>
<path d="M96.5 96.0H718.5V261.8" fill="none" stroke="#a5a89f" stroke-width="1.6"/>
<path d="M96.5 96.0V261.8" fill="none" stroke="#8a8a92" stroke-width="1.8"/>
<path d="M95.5 261.8H718.5" fill="none" stroke="#303030" stroke-opacity="0.9" stroke-width="2.2"/>
</g>
<g stroke="#9c9c9c" stroke-width="2.6" filter="url(#b1)">
<line x1="173.5" x2="173.5" y1="261.8" y2="278.5"/>
<line x1="290.5" x2="290.5" y1="261.8" y2="278.5"/>
<line x1="407.5" x2="407.5" y1="261.8" y2="278.5"/>
<line x1="524.5" x2="524.5" y1="261.8" y2="278.5"/>
<line x1="641.5" x2="641.5" y1="261.8" y2="278.5"/>
<line x1="79.5" x2="96.5" y1="261.4" y2="261.4"/>
<line x1="79.5" x2="96.5" y1="209.0" y2="209.0"/>
<line x1="79.5" x2="96.5" y1="156.7" y2="156.7"/>
<line x1="79.5" x2="96.5" y1="104.3" y2="104.3"/>
</g>
<g fill="#2a2a2a" stroke="#2a2a2a" stroke-width="0.25" filter="url(#b1)">
<g font-size="27.5" text-anchor="middle">
<text x="170.0" y="319.5">−1</text>
<text x="287.0" y="319.5">−0.5</text>
<text x="407.5" y="319.5">0</text>
<text x="524.5" y="319.5">0.5</text>
<text x="641.5" y="319.5">1</text>
<text x="407.5" y="360" font-size="26.3">Row Z-Score</text>
</g>
<g font-size="24.5" text-anchor="middle">
<text transform="translate(59,261.4) rotate(-90)">0</text>
<text transform="translate(59,209.0) rotate(-90)">5</text>
<text transform="translate(59,156.7) rotate(-90)">10</text>
<text transform="translate(59,104.3) rotate(-90)">15</text>
</g>
<text font-size="18" text-anchor="middle" transform="translate(34,178.5) rotate(-90)">Count</text>
</g>
<g font-size="32" font-weight="bold" fill="#111" text-anchor="middle" filter="url(#b1)">
<text x="406.6" y="57.7">Color Key</text>
<text x="406.6" y="96">and Histogram</text>
</g>
</svg></body></html>
